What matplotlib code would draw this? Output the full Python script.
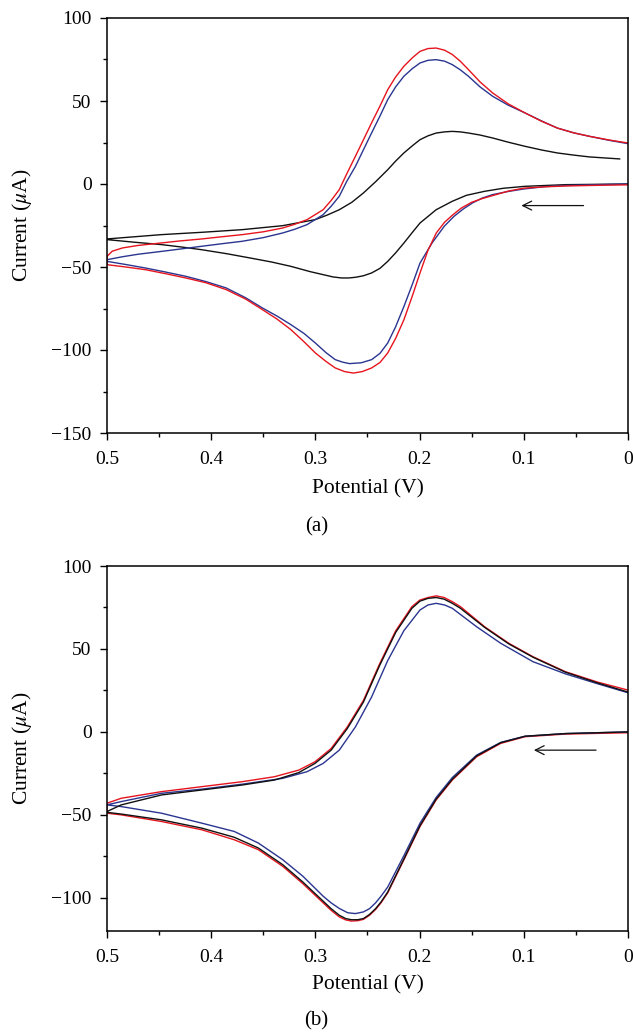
import numpy as np
import matplotlib
matplotlib.use("Agg")
import matplotlib.pyplot as plt
from matplotlib.ticker import MultipleLocator, FuncFormatter

plt.rcParams['font.family'] = ['Liberation Serif', 'DejaVu Serif']
plt.rcParams['mathtext.fontset'] = 'stix'

# ---- panel (a) ----
# forward sweep (0 -> 0.5 V), then return sweep (0.5 -> 0 V)
a_red_fwd_x = [0, 0.03, 0.06, 0.08, 0.1, 0.115, 0.13, 0.14, 0.15, 0.16, 0.168, 0.176, 0.184, 0.192, 0.1996, 0.207, 0.215, 0.223, 0.2306, 0.238, 0.246, 0.255, 0.2636, 0.272, 0.281, 0.29, 0.3, 0.311, 0.3236, 0.337, 0.3508, 0.367, 0.3857, 0.405, 0.4244, 0.444, 0.4632, 0.482, 0.5]
a_red_fwd_y = [-0.5, -0.8, -1.2, -1.7, -2.5, -4.3, -7, -8.8, -11, -14.5, -18.5, -23, -29.5, -40, -53.6, -67.5, -81.7, -93, -101.8, -107.5, -110.8, -113, -113.9, -113, -110.8, -106.8, -101.8, -95, -87.7, -81.3, -75.7, -69.3, -63.6, -59.5, -56.6, -54, -51.6, -50, -48.6]
a_red_ret_x = [0.5, 0.495, 0.485, 0.47, 0.4477, 0.43, 0.409, 0.39, 0.3702, 0.35, 0.3314, 0.32, 0.3081, 0.2926, 0.285, 0.2771, 0.27, 0.2616, 0.254, 0.2461, 0.238, 0.2306, 0.223, 0.2151, 0.207, 0.1996, 0.192, 0.1841, 0.176, 0.1686, 0.161, 0.1531, 0.142, 0.1298, 0.115, 0.0988, 0.083, 0.0678, 0.052, 0.0368, 0.018, 0.0]
a_red_ret_y = [-43.6, -40.5, -38.5, -37, -35.5, -34.3, -33.1, -31.8, -30.5, -28.8, -26.5, -24.3, -21.5, -15.5, -10, -3.4, 6, 16.7, 26.5, 36.8, 47, 56.8, 64.5, 70.9, 76, 79.9, 81.6, 81.9, 80.6, 78, 74, 68.9, 61.5, 54.8, 48.3, 42.8, 37.8, 33.7, 30.8, 28.7, 26.5, 24.7]

a_blue_fwd_x = [0, 0.03, 0.06, 0.08, 0.1, 0.115, 0.13, 0.14, 0.1492, 0.158, 0.167, 0.1764, 0.188, 0.1996, 0.207, 0.215, 0.223, 0.2306, 0.238, 0.246, 0.256, 0.2674, 0.274, 0.281, 0.29, 0.3, 0.311, 0.3236, 0.337, 0.3508, 0.367, 0.3857, 0.405, 0.4244, 0.444, 0.4632, 0.482, 0.5]
a_blue_fwd_y = [0, -0.4, -0.9, -1.6, -3, -4.5, -6.4, -8.5, -11.4, -15, -19.5, -25.5, -35.5, -47.6, -60.5, -73.7, -86, -95.8, -102, -105.8, -107.7, -108.2, -107.3, -105.8, -101.5, -95.8, -90, -84.7, -79.5, -74.7, -68.5, -62.6, -58.8, -55.6, -53, -50.6, -48.5, -46.6]
a_blue_ret_x = [0.5, 0.485, 0.47, 0.4477, 0.43, 0.409, 0.39, 0.3702, 0.35, 0.3314, 0.32, 0.3081, 0.2926, 0.285, 0.2771, 0.27, 0.2616, 0.254, 0.2461, 0.238, 0.2306, 0.223, 0.2151, 0.207, 0.1996, 0.192, 0.1841, 0.176, 0.1686, 0.161, 0.1531, 0.142, 0.1298, 0.115, 0.0988, 0.083, 0.0678, 0.052, 0.0368, 0.018, 0]
a_blue_ret_y = [-45.6, -43.8, -42.3, -40.6, -39.2, -37.5, -36, -34.5, -32.3, -29.5, -27.3, -24.5, -18.5, -13.5, -7.4, 1.5, 10.6, 20.5, 30.7, 41, 50.8, 58.5, 64.9, 69.5, 72.9, 74.5, 74.9, 74, 71.9, 68.8, 64.9, 58.5, 52.8, 47.5, 42.8, 38, 33.7, 30.8, 28.7, 26.3, 24.3]

a_black_fwd_x = [0, 0.06, 0.0988, 0.12, 0.1376, 0.155, 0.1686, 0.1841, 0.1996, 0.207, 0.215, 0.223, 0.2306, 0.238, 0.2461, 0.254, 0.2616, 0.268, 0.275, 0.283, 0.2926, 0.305, 0.3236, 0.342, 0.3624, 0.385, 0.409, 0.428, 0.4477, 0.475, 0.5]
a_black_fwd_y = [0, -0.4, -1.4, -2.6, -4.4, -6.8, -10.4, -15.5, -23.5, -29.2, -35.5, -41.5, -46.6, -50.8, -53.6, -55.3, -56.2, -56.6, -56.6, -56, -54.6, -52.8, -49.6, -47, -44.6, -42, -39.6, -38, -36.5, -35, -33.5]
a_black_ret_x = [0.5, 0.4477, 0.409, 0.3702, 0.3314, 0.3004, 0.289, 0.2771, 0.265, 0.2539, 0.242, 0.2306, 0.223, 0.2151, 0.207, 0.1996, 0.192, 0.1841, 0.176, 0.1686, 0.161, 0.1531, 0.142, 0.1298, 0.115, 0.0988, 0.083, 0.0678, 0.052, 0.0368, 0.008]
a_black_ret_y = [-33.1, -30.5, -29.1, -27.5, -25.1, -21.5, -18.8, -15.5, -11, -5.4, 1.5, 8.6, 13.8, 18.7, 23, 26.7, 29, 30.7, 31.4, 31.7, 31.4, 30.7, 29.5, 27.7, 25.2, 22.7, 20.5, 18.7, 17.4, 16.3, 15.1]

# ---- panel (b) ----
b_red_fwd_x = [0.0, 0.06, 0.0988, 0.1221, 0.1453, 0.1686, 0.1841, 0.1996, 0.215, 0.2306, 0.237, 0.2422, 0.248, 0.2539, 0.2594, 0.2655, 0.271, 0.2771, 0.285, 0.2926, 0.3120, 0.3314, 0.3547, 0.3779, 0.409, 0.4477, 0.4864, 0.5]
b_red_fwd_y = [-0.5, -1.3, -2.9, -6.9, -15, -29, -41, -57, -77, -97, -103, -107, -110.5, -113, -113.8, -114, -113.3, -111.5, -107.5, -103, -91.5, -81, -71, -65, -59, -54, -50, -49]
b_red_ret_x = [0.5, 0.4864, 0.4477, 0.409, 0.3702, 0.3392, 0.3159, 0.3004, 0.2849, 0.2694, 0.2539, 0.2384, 0.2229, 0.2074, 0.1997, 0.1919, 0.1841, 0.1764, 0.1686, 0.1608, 0.1376, 0.1143, 0.0911, 0.0601, 0.0291, 0.0]
b_red_ret_y = [-43, -40, -36, -33, -30, -27, -23, -18, -10, 3, 19, 41, 61, 75.5, 79.5, 81, 82, 81, 78.5, 75.5, 63.4, 53.4, 45.3, 36.3, 30, 25.2]

b_black_fwd_x = [0.0, 0.06, 0.0988, 0.1221, 0.1453, 0.1686, 0.1841, 0.1996, 0.215, 0.2306, 0.237, 0.2422, 0.248, 0.2539, 0.2594, 0.2655, 0.271, 0.2771, 0.285, 0.2926, 0.3120, 0.3314, 0.3547, 0.3779, 0.409, 0.4477, 0.4864, 0.5]
b_black_fwd_y = [0.0, -1.0, -2.6, -6.5, -14.5, -28.5, -40.5, -56.5, -76.5, -96.5, -102.5, -106.5, -110, -112.5, -113.2, -113.2, -112.5, -110.5, -106.5, -102, -90.5, -80, -70, -63.5, -58, -53, -49.5, -48.5]
b_black_ret_x = [0.5, 0.4864, 0.4477, 0.409, 0.3702, 0.3392, 0.3159, 0.3004, 0.2849, 0.2694, 0.2539, 0.2384, 0.2229, 0.2074, 0.1997, 0.1919, 0.1841, 0.1764, 0.1686, 0.1608, 0.1376, 0.1143, 0.0911, 0.0601, 0.0291, 0.0]
b_black_ret_y = [-48, -44, -38, -35, -32, -29, -24.5, -19, -11, 2, 18, 40, 60, 74.5, 78.8, 80.5, 81, 80, 77.5, 74.5, 63, 53, 45, 36, 29.5, 24]

b_blue_fwd_x = [0.0, 0.06, 0.0988, 0.1221, 0.1453, 0.1686, 0.1841, 0.1996, 0.215, 0.2306, 0.237, 0.2422, 0.248, 0.2539, 0.2616, 0.269, 0.2771, 0.285, 0.2926, 0.3120, 0.3314, 0.3547, 0.3779, 0.409, 0.4477, 0.4864, 0.5]
b_blue_fwd_y = [0.0, -1.0, -2.6, -6.3, -14, -27.5, -39.5, -55, -74.5, -93.5, -99, -103, -106.5, -108.5, -109.5, -109, -106.4, -103, -99, -87, -77, -67, -60, -55, -49, -45, -44]
b_blue_ret_x = [0.5, 0.4864, 0.4477, 0.409, 0.3702, 0.3314, 0.3081, 0.2926, 0.2771, 0.2616, 0.2461, 0.2306, 0.2151, 0.1996, 0.192, 0.1841, 0.176, 0.1686, 0.1453, 0.1221, 0.0911, 0.0601, 0.0291, 0.0]
b_blue_ret_y = [-44, -42, -37, -34.5, -31.5, -28, -24, -19, -11, 3, 21, 43, 61, 73.5, 76.5, 77.5, 76.5, 74.5, 63.4, 53.4, 42.3, 35, 29, 23.6]

red = '#e6141e'
blue = '#2a3590'
black = '#111111'

fig = plt.figure(figsize=(6.33, 10.32), dpi=100)
ax1 = fig.add_axes([107/633, 1-433/1032, 521/633, 415/1032])
ax2 = fig.add_axes([107/633, 1-931/1032, 521/633, 365/1032])

lw = 1.0
ax1.plot(a_black_fwd_x + a_black_ret_x, a_black_fwd_y + a_black_ret_y, color=black, lw=lw)
ax1.plot(a_blue_fwd_x + a_blue_ret_x, a_blue_fwd_y + a_blue_ret_y, color=blue, lw=lw)
ax1.plot(a_red_fwd_x + a_red_ret_x, a_red_fwd_y + a_red_ret_y, color=red, lw=lw)

ax2.plot(b_red_fwd_x + b_red_ret_x, b_red_fwd_y + b_red_ret_y, color=red, lw=lw)
ax2.plot(b_blue_fwd_x + b_blue_ret_x, b_blue_fwd_y + b_blue_ret_y, color=blue, lw=lw)
ax2.plot(b_black_fwd_x + b_black_ret_x, b_black_fwd_y + b_black_ret_y, color=black, lw=lw)

ax1.set_ylim(-150, 100)
ax2.set_ylim(-120, 100)
ax1.set_yticks([-150, -100, -50, 0, 50, 100])
ax2.set_yticks([-100, -50, 0, 50, 100])

for ax, xl_y in ((ax1, (433-489)/415), (ax2, (931-985)/365)):
    ax.set_xlim(0.5, 0)
    ax.set_xticks([0.5, 0.4, 0.3, 0.2, 0.1, 0])
    ax.set_xticklabels(['0.5', '0.4', '0.3', '0.2', '0.1', '0'])
    ax.xaxis.set_minor_locator(MultipleLocator(0.05))
    ax.yaxis.set_minor_locator(MultipleLocator(25))
    ax.tick_params(which='major', direction='out', length=5, width=1, labelsize=14)
    ax.tick_params(axis='y', which='major', pad=6)
    ax.tick_params(axis='x', which='major', pad=8)
    ax.tick_params(which='minor', direction='out', length=3, width=1)
    ax.set_xlabel('Potential (V)', fontsize=15.5, va='center')
    ax.xaxis.set_label_coords(0.5, xl_y)
    ax.set_ylabel(r'Current ($\mu$A)', fontsize=15.5, va='center')
    ax.yaxis.set_label_coords((22-107)/521, 0.5)
    for s in ax.spines.values():
        s.set_linewidth(1.1)
    ax.yaxis.set_major_formatter(FuncFormatter(
        lambda v, p: ('\u2212%d' % -v) if v < 0 else '%d' % v))

ax1.annotate('', xy=(0.105, -13), xytext=(0.04, -13),
             arrowprops=dict(arrowstyle='->', color=black, lw=0.9, mutation_scale=16))
ax2.annotate('', xy=(0.093, -11), xytext=(0.028, -11),
             arrowprops=dict(arrowstyle='->', color=black, lw=0.9, mutation_scale=16))

fig.text(0.5, 1-527/1032, '(a)', ha='center', va='center', fontsize=15)
fig.text(0.5, 1-1021/1032, '(b)', ha='center', va='center', fontsize=15)

fig.savefig('out.png', dpi=100)
